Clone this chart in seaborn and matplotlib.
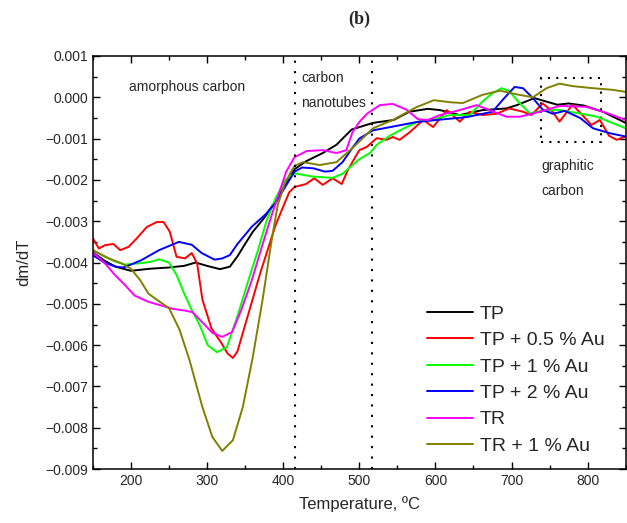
import numpy as np
import pandas as pd
import matplotlib
matplotlib.use("Agg")
import matplotlib.pyplot as plt
import seaborn as sns
from matplotlib.patches import Rectangle
from matplotlib.ticker import MultipleLocator, FuncFormatter

# =====================================================
# Data (dm/dT, in units of 1e-3)
# =====================================================

tp_t = [150, 165, 180, 200, 225, 250, 270, 285, 300, 317, 330, 340, 350, 360,
        376, 392, 405, 415, 430, 452, 470, 490, 518, 545, 566, 590, 606, 632,
        662, 693, 707, 730, 745, 760, 775, 795, 820, 850]
tp_v = [-3.75, -3.95, -4.1, -4.2, -4.15, -4.12, -4.08, -4.0, -4.08, -4.16, -4.1,
        -3.85, -3.55, -3.26, -2.9, -2.45, -2.05, -1.74, -1.55, -1.35, -1.15,
        -0.78, -0.62, -0.55, -0.35, -0.28, -0.31, -0.43, -0.31, -0.27, -0.19,
        -0.02, -0.1, -0.18, -0.15, -0.2, -0.35, -0.62]

tp05_t = [150, 158, 166, 177, 186, 197, 208, 221, 234, 243, 251, 260, 271, 280,
          287, 294, 306, 319, 327, 334, 340, 352, 370, 390, 402, 408, 415, 430,
          441, 452, 465, 477, 485, 500, 510, 523, 536, 544, 553, 566, 584, 597,
          615, 632, 645, 662, 680, 697, 715, 726, 741, 754, 763, 780, 794, 805,
          816, 828, 838, 850]
tp05_v = [-3.41, -3.66, -3.58, -3.55, -3.7, -3.62, -3.41, -3.14, -3.02, -3.02,
          -3.25, -3.86, -3.9, -3.77, -4.02, -4.9, -5.6, -5.95, -6.2, -6.31,
          -6.15, -5.39, -4.25, -3.1, -2.56, -2.3, -2.17, -2.1, -1.96, -2.12,
          -1.96, -2.1, -1.76, -1.28, -1.2, -0.99, -1.03, -0.96, -1.03, -0.85,
          -0.55, -0.72, -0.31, -0.59, -0.35, -0.43, -0.4, -0.27, -0.35, -0.43,
          -0.15, -0.35, -0.59, -0.18, -0.45, -0.67, -0.55, -0.93, -1.03, -0.95]

tp1_t = [150, 166, 180, 192, 210, 227, 237, 250, 260, 270, 280, 290, 301, 313,
         326, 340, 354, 367, 378, 390, 403, 415, 439, 465, 478, 500, 514, 523,
         540, 562, 580, 600, 619, 645, 662, 675, 687, 697, 707, 724, 737, 760,
         786, 812, 850]
tp1_v = [-3.7, -3.86, -3.98, -4.05, -4.02, -3.98, -3.92, -4.0, -4.3, -4.75,
         -5.15, -5.5, -6.0, -6.17, -6.05, -5.3, -4.45, -3.7, -3.0, -2.45, -2.0,
         -1.84, -1.92, -1.95, -1.85, -1.5, -1.35, -1.15, -0.93, -0.72, -0.57,
         -0.52, -0.43, -0.43, -0.1, 0.1, 0.22, 0.15, -0.07, -0.39, -0.34, -0.3,
         -0.38, -0.47, -0.75]

tp2_t = [150, 165, 180, 190, 200, 214, 237, 263, 280, 293, 310, 320, 330, 340,
         359, 376, 390, 405, 415, 425, 440, 455, 465, 478, 490, 500, 518, 544,
         575, 601, 641, 675, 688, 704, 715, 727, 741, 754, 770, 790, 807, 829,
         850]
tp2_v = [-3.82, -4.0, -4.1, -4.12, -4.05, -3.94, -3.7, -3.5, -3.57, -3.77,
         -3.93, -3.9, -3.82, -3.55, -3.13, -2.85, -2.56, -2.1, -1.8, -1.7,
         -1.72, -1.8, -1.78, -1.57, -1.25, -1.0, -0.8, -0.71, -0.6, -0.55,
         -0.48, -0.35, -0.07, 0.25, 0.22, 0.0, -0.3, -0.4, -0.33, -0.5, -0.75,
         -0.87, -0.95]

tr_t = [150, 166, 179, 192, 205, 223, 242, 255, 270, 281, 294, 307, 320, 333,
        345, 359, 372, 385, 395, 404, 415, 431, 452, 470, 483, 491, 500, 510,
        527, 544, 562, 577, 590, 606, 632, 654, 671, 693, 711, 737, 763, 798,
        825, 850]
tr_v = [-3.75, -4.02, -4.3, -4.54, -4.8, -4.95, -5.05, -5.12, -5.16, -5.2,
        -5.45, -5.7, -5.8, -5.68, -5.15, -4.42, -3.62, -2.85, -2.3, -1.8, -1.45,
        -1.3, -1.28, -1.35, -1.28, -0.85, -0.6, -0.4, -0.19, -0.16, -0.3, -0.53,
        -0.55, -0.43, -0.31, -0.19, -0.31, -0.47, -0.47, -0.35, -0.21, -0.23,
        -0.38, -0.55]

tr1_t = [150, 171, 188, 200, 212, 223, 234, 250, 258, 264, 277, 294, 307, 320,
         334, 347, 360, 373, 385, 393, 402, 409, 415, 426, 448, 470, 491, 518,
         544, 575, 598, 619, 636, 662, 685, 707, 728, 746, 763, 780, 807, 833,
         850]
tr1_v = [-3.7, -3.9, -4.02, -4.15, -4.42, -4.75, -4.9, -5.1, -5.4, -5.63, -6.36,
         -7.5, -8.22, -8.56, -8.3, -7.5, -6.3, -4.9, -3.45, -2.6, -2.1, -1.85,
         -1.66, -1.57, -1.64, -1.57, -1.23, -0.75, -0.55, -0.24, -0.07, -0.12,
         -0.14, 0.06, 0.16, 0.07, 0.0, 0.22, 0.33, 0.27, 0.22, 0.18, 0.13]

labels = ["TP", "TP + 0.5 % Au", "TP + 1 % Au", "TP + 2 % Au", "TR", "TR + 1 % Au"]
colors = ["#000000", "#ff0000", "#00ff00", "#0000ff", "#ff00ff", "#808000"]

series = [(tp_t, tp_v), (tp05_t, tp05_v), (tp1_t, tp1_v),
          (tp2_t, tp2_v), (tr_t, tr_v), (tr1_t, tr1_v)]

frames = []
for name, (t, v) in zip(labels, series):
    frames.append(pd.DataFrame({
        "Temperature": t,
        "dmdT": np.array(v) * 1e-3,
        "Sample": name
    }))
df = pd.concat(frames, ignore_index=True)

# =====================================================
# Plot
# =====================================================

sns.set_style("ticks")
plt.rcParams["font.family"] = ["Liberation Sans", "DejaVu Sans"]

fig = plt.figure(figsize=(6.27, 5.23), dpi=100)
ax = fig.add_axes([0.148, 0.103, 0.850, 0.790])

sns.lineplot(
    data=df,
    x="Temperature",
    y="dmdT",
    hue="Sample",
    hue_order=labels,
    palette=colors,
    sort=False,
    estimator=None,
    linewidth=1.4,
    ax=ax
)

# region markers
for xv in [415, 517]:
    ax.axvline(xv, color="black", linestyle=(0, (1, 4)), linewidth=1.5)

ax.add_patch(Rectangle((739, -0.00108), 79, 0.001555, fill=False,
                       edgecolor="black", linestyle=(0, (1, 3)), linewidth=1.5))

ax.text(198, 0.00025, "amorphous carbon", fontsize=10, va="center")
ax.text(424, 0.00047, "carbon", fontsize=10, va="center")
ax.text(424, -0.00014, "nanotubes", fontsize=10, va="center")
ax.text(739, -0.00166, "graphitic", fontsize=10, va="center")
ax.text(739, -0.00227, "carbon", fontsize=10, va="center")

ax.set_xlim(150, 850)
ax.set_ylim(-0.009, 0.001)
ax.xaxis.set_major_locator(MultipleLocator(100))
ax.xaxis.set_minor_locator(MultipleLocator(50))
ax.yaxis.set_major_locator(MultipleLocator(0.001))
ax.yaxis.set_minor_locator(MultipleLocator(0.0005))
ax.yaxis.set_major_formatter(FuncFormatter(
    lambda v, p: f"{v:.3f}".replace("-", "\u2212") if abs(v) > 1e-12 else "0.000"))

ax.tick_params(which="both", direction="in", top=True, right=True,
               labelsize=10, width=1, color="black")
ax.tick_params(which="major", length=5)
ax.tick_params(which="minor", length=3)
for s in ax.spines.values():
    s.set_linewidth(1.1)
    s.set_color("black")

ax.set_xlabel("Temperature, \u00baC", fontsize=12, labelpad=6)
ax.set_ylabel("dm/dT", fontsize=12, labelpad=10)
ax.set_title("(b)", fontsize=13, fontweight="bold",
             family=["Liberation Serif", "DejaVu Serif"], pad=23)

ax.legend(
    loc="lower left",
    bbox_to_anchor=(0.627, 0.035),
    frameon=False,
    fontsize=14,
    handlelength=2.37,
    handletextpad=0.36,
    labelspacing=0.45,
    borderpad=0,
    borderaxespad=0
)

fig.savefig("out.png", dpi=100)
